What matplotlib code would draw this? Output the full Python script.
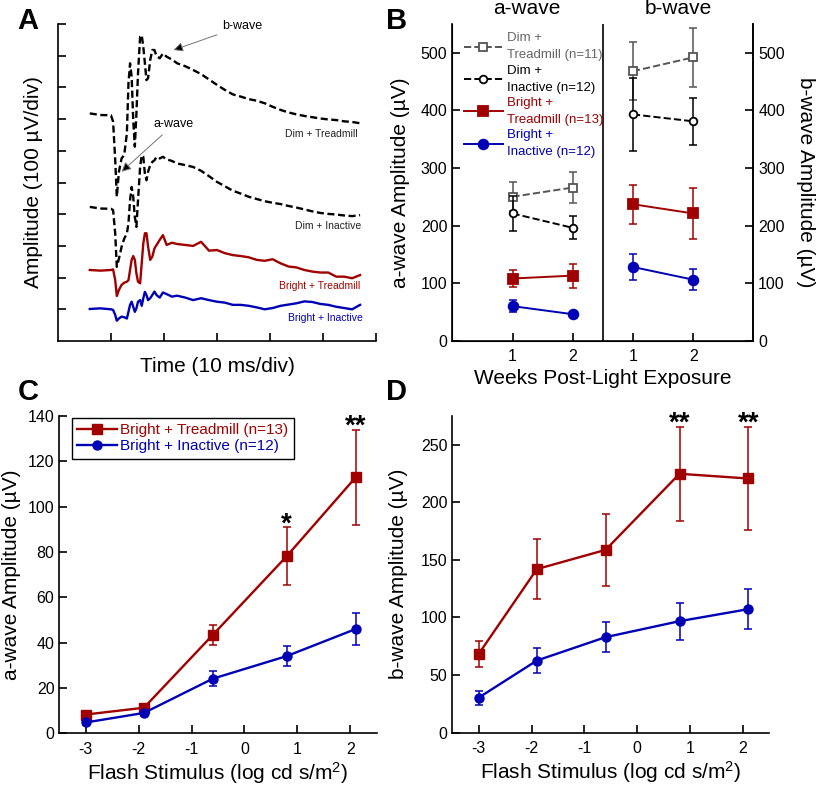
import numpy as np
import matplotlib
matplotlib.use("Agg")
import matplotlib.pyplot as plt
from matplotlib.lines import Line2D

plt.rcParams['font.family'] = ['Liberation Sans', 'DejaVu Sans']
plt.rcParams['mathtext.fontset'] = 'custom'
plt.rcParams['mathtext.rm'] = 'Liberation Sans'
plt.rcParams['mathtext.default'] = 'regular'
plt.rcParams['axes.unicode_minus'] = False

RED = '#a00000'
BLUE = '#0000b4'
GREY = '#555555'
LABEL_FS = 15

# --- Panel A : ERG traces (time in ms, amplitude in uV relative to baseline)
t_ms = [6, 8, 10, 10.4, 10.8, 11.1, 11.5, 12, 12.5, 13, 13.3, 13.6, 13.9, 14.2,
        14.5, 14.8, 15.1, 15.5, 15.8, 16.1, 16.4, 16.7, 17.0, 17.4, 17.8, 18.2,
        18.6, 19.2, 19.8, 20.5, 21.5, 22.5, 24, 25.5, 27, 28.5, 30, 31.5, 33,
        34.5, 36, 37.5, 39, 40.5, 42, 43.5, 45, 46.5, 48, 49.5, 51, 52.5, 54,
        55.5, 57]
dim_tread_trace = [3, -2, -3, -23, -144, -260, -181, -139, -128, -60, 98, 161, 119,
                   -18, -102, 3, 129, 245, 250, 213, 161, 108, 114, 171, 203, 203,
                   184, 177, 192, 182, 173, 161, 152, 140, 127, 110, 93, 77, 63, 56,
                   48, 43, 35, 24, 14, 6, 0, -5, -9, -13, -16, -18, -22, -24, -28]
dim_inact_trace = [5, 0, -1, -5, -79, -184, -158, -121, -95, -79, -47, 26, 68, 37,
                   -26, -58, 26, 131, 168, 163, 110, 89, 116, 137, 147, 152, 163,
                   158, 163, 155, 150, 142, 137, 131, 119, 102, 84, 70, 56, 47, 37,
                   30, 23, 18, 14, 8, 3, -3, -9, -14, -17, -19, -22, -24, -21]
br_tread_trace = [0, -2, 0, 2, -32, -82, -63, -47, -40, -37, -32, 0, 32, 44, 32,
                  -11, -37, -42, 21, 84, 116, 116, 74, 32, 42, 68, 79, 95, 110, 79,
                  86, 82, 79, 76, 89, 61, 63, 53, 47, 44, 40, 32, 29, 34, 21, 11, 8,
                  0, -5, -8, -8, -21, -21, -26, -16]
br_inact_trace = [1, 3, 0, -2, -18, -36, -29, -23, -25, -29, -8, 14, 24, 8, -8, 3,
                  24, 29, 11, 35, 55, 45, 29, 35, 45, 56, 45, 37, 53, 48, 40, 43, 37,
                  29, 35, 29, 24, 21, 14, 14, 11, 6, 0, 4, 11, 15, 19, 25, 23, 17, 14,
                  8, 4, 0, 14]
trace_names = ['Dim + Treadmill', 'Dim + Inactive', 'Bright + Treadmill', 'Bright + Inactive']

# --- Panel B : amplitudes by week
weeks = [1, 2]
dim_tm_a, dim_tm_a_err = [250, 266], [25, 27]
dim_in_a, dim_in_a_err = [221, 196], [30, 20]
br_tm_a, br_tm_a_err = [108, 113], [15, 21]
br_in_a, br_in_a_err = [60, 46], [10, 4]
dim_tm_b, dim_tm_b_err = [468, 492], [50, 51]
dim_in_b, dim_in_b_err = [393, 381], [64, 41]
br_tm_b, br_tm_b_err = [237, 221], [34, 45]
br_in_b, br_in_b_err = [128, 106], [22, 18]
legend_b = ['Dim +\nTreadmill (n=11)', 'Dim +\nInactive (n=12)',
            'Bright +\nTreadmill (n=13)', 'Bright +\nInactive (n=12)']

# --- Panels C / D : intensity-response
flash = [-3, -1.9, -0.6, 0.8, 2.1]
c_tm, c_tm_err = [8.3, 11.3, 43.4, 78.2, 112.9], [1.5, 1.5, 4.6, 12.8, 21]
c_in, c_in_err = [4.8, 9.0, 24.1, 34.1, 46], [1, 1, 3.4, 4.5, 7.2]
d_tm, d_tm_err = [68.4, 142, 158.7, 224.8, 220.7], [11.6, 26, 31, 41, 45]
d_in, d_in_err = [30.4, 62.6, 82.9, 96.8, 107.2], [6, 11, 13, 16, 17.5]
sig_c = ['', '', '', '*', '**']
sig_d = ['', '', '', '**', '**']

fig = plt.figure(figsize=(8.2, 7.85), dpi=100)


def style(ax, right=False):
    ax.spines['top'].set_visible(False)
    if not right:
        ax.spines['right'].set_visible(False)
    for s in ax.spines.values():
        s.set_linewidth(1.2)
    ax.tick_params(direction='in', length=6, width=1.2, labelsize=11.5)


# ---------------- A
ax = fig.add_axes([0.0707, 0.5656, 0.3878, 0.4038])
style(ax)
ax.set_xlim(0, 60)
ax.set_ylim(0, 1000)
ax.set_xticks(np.arange(10, 61, 10))
ax.set_yticks(np.arange(100, 1001, 100))
ax.tick_params(labelbottom=False, labelleft=False)
t = np.array(t_ms)
offsets = [715, 418, 224, 100]
traces = [dim_tread_trace, dim_inact_trace, br_tread_trace, br_inact_trace]
cols = ['black', 'black', RED, BLUE]
label_pos = [(56.5, 653), (57.3, 364), (57.0, 175), (57.5, 74)]
for tr, off, c, nm, lp in zip(traces, offsets, cols, trace_names, label_pos):
    ls = (0, (3, 1.5)) if c == 'black' else '-'
    ax.plot(t, np.array(tr) + off, color=c, lw=1.7, ls=ls)
    ax.text(lp[0], lp[1], nm, color=c if c != 'black' else '#222222',
            fontsize=7.5, ha='right', va='center')
ax.annotate('b-wave', xy=(21.8, 918), xytext=(34.8, 994), ha='center', va='center',
            fontsize=9, annotation_clip=False,
            arrowprops=dict(arrowstyle='-|>', ec='0.45', fc='black', lw=0.7,
                            mutation_scale=14, shrinkA=2, shrinkB=0))
ax.annotate('a-wave', xy=(12.0, 534), xytext=(21.9, 684), ha='center', va='center',
            fontsize=9,
            arrowprops=dict(arrowstyle='-|>', ec='0.45', fc='black', lw=0.7,
                            mutation_scale=14, shrinkA=2, shrinkB=0))
ax.set_xlabel('Time (10 ms/div)', fontsize=LABEL_FS)
ax.set_ylabel('Amplitude (100 \u00b5V/div)', fontsize=LABEL_FS)
ax.xaxis.set_label_coords(0.5, -0.05)
ax.yaxis.set_label_coords(-0.048, 0.5)

# ---------------- B
ax = fig.add_axes([0.5516, 0.566, 0.3671, 0.4034])
style(ax, right=True)
ax.set_xlim(0, 5)
ax.set_ylim(0, 550)
ax.axvline(2.5, color='black', lw=1.2)
xa = np.array(weeks)
xb = xa + 2
series = [
    (dim_tm_a, dim_tm_a_err, dim_tm_b, dim_tm_b_err, GREY, 's', 'none', '--', 5.5, legend_b[0]),
    (dim_in_a, dim_in_a_err, dim_in_b, dim_in_b_err, 'black', 'o', 'none', '--', 5.5, legend_b[1]),
    (br_tm_a, br_tm_a_err, br_tm_b, br_tm_b_err, RED, 's', RED, '-', 7, legend_b[2]),
    (br_in_a, br_in_a_err, br_in_b, br_in_b_err, BLUE, 'o', BLUE, '-', 7, legend_b[3]),
]
handles = []
for ya, ea, yb, eb, c, m, fc, ls, ms, lab in series:
    mfc = fc if fc != 'none' else 'white'
    for xx, yy, ee in ((xa, ya, ea), (xb, yb, eb)):
        ax.errorbar(xx, yy, yerr=ee, fmt='none', ecolor=c, elinewidth=1.1, capsize=3,
                    capthick=1.1)
        ax.plot(xx, yy, color=c, ls=ls, lw=1.4, marker=m, ms=ms, mfc=mfc, mec=c, mew=1.3)
    handles.append(Line2D([], [], color=c, ls=ls, lw=1.4, marker=m, ms=ms,
                          mfc=mfc, mec=c, mew=1.3, label=lab))
leg = ax.legend(handles=handles, loc='upper left', bbox_to_anchor=(0.02, 0.99), frameon=False,
                fontsize=9.5, handlelength=3.0, handletextpad=0.3, labelspacing=0.25,
                borderaxespad=0)
for txt, c in zip(leg.get_texts(), ['#666666', 'black', RED, BLUE]):
    txt.set_color(c)
    txt.set_linespacing(1.55)
ax.set_xticks([1, 2, 3, 4])
ax.set_xticklabels(['1', '2', '1', '2'])
ax.set_yticks(np.arange(0, 501, 100))
ax.tick_params(axis='x', pad=6)
ax.set_xlabel('Weeks Post-Light Exposure', fontsize=LABEL_FS)
ax.set_ylabel('a-wave Amplitude (\u00b5V)', fontsize=LABEL_FS)
ax.xaxis.set_label_coords(0.5, -0.09)
ax.yaxis.set_label_coords(-0.142, 0.5)
ax2 = ax.twinx()
ax2.set_ylim(0, 550)
ax2.set_yticks(np.arange(0, 501, 100))
ax2.spines['top'].set_visible(False)
ax2.spines['right'].set_linewidth(1.2)
ax2.tick_params(direction='in', length=6, width=1.2, labelsize=11.5)
ax2.set_ylabel('b-wave Amplitude (\u00b5V)', fontsize=LABEL_FS, rotation=270)
ax2.yaxis.set_label_coords(1.205, 0.5)
fig.text(527 / 820, 1 - 9 / 785, 'a-wave', fontsize=LABEL_FS, ha='center', va='center')
fig.text(678 / 820, 1 - 9 / 785, 'b-wave', fontsize=LABEL_FS, ha='center', va='center')


# ---------------- C and D
def ir_panel(rect, tm, tm_err, ina, ina_err, ylim, yticks, ylabel, sig, leg_on):
    ax = fig.add_axes(rect)
    style(ax)
    ax.set_xlim(-3.5, 2.5)
    ax.set_ylim(*ylim)
    ax.set_xticks([-3, -2, -1, 0, 1, 2])
    ax.set_yticks(yticks)
    ax.tick_params(axis='x', pad=6)
    ax.errorbar(flash, tm, yerr=tm_err, fmt='none', ecolor=RED, elinewidth=1.1,
                capsize=3, capthick=1.1)
    ax.errorbar(flash, ina, yerr=ina_err, fmt='none', ecolor=BLUE, elinewidth=1.1,
                capsize=3, capthick=1.1)
    ax.plot(flash, tm, color=RED, lw=1.7, marker='s', ms=7, label='Bright + Treadmill (n=13)')
    ax.plot(flash, ina, color=BLUE, lw=1.7, marker='o', ms=6.5, label='Bright + Inactive (n=12)')
    for x, y, e, s in zip(flash, tm, tm_err, sig):
        if s:
            ax.annotate(s, xy=(x, y + e), xytext=(0, -3), textcoords='offset points',
                        ha='center', va='baseline', fontsize=20, fontweight='bold',
                        annotation_clip=False)
    if leg_on:
        lg = ax.legend(loc='upper left', bbox_to_anchor=(0.04, 0.995), fontsize=11,
                       fancybox=False, edgecolor='black', framealpha=1, borderaxespad=0,
                       handlelength=2.6, handletextpad=0.2, labelspacing=0.15,
                       borderpad=0.35)
        lg.get_frame().set_linewidth(1.0)
        for txt, c in zip(lg.get_texts(), [RED, BLUE]):
            txt.set_color(c)
    ax.set_xlabel('Flash Stimulus (log cd s/m$^2$)', fontsize=LABEL_FS)
    ax.set_ylabel(ylabel, fontsize=LABEL_FS)
    ax.xaxis.set_label_coords(0.5, -0.085)
    return ax


axc = ir_panel([0.0723, 0.0658, 0.3871, 0.4042], c_tm, c_tm_err, c_in, c_in_err,
               (0, 140), np.arange(0, 141, 20), 'a-wave Amplitude (\u00b5V)', sig_c, True)
axc.yaxis.set_label_coords(-0.122, 0.5)
axd = ir_panel([0.5516, 0.0667, 0.3866, 0.4034], d_tm, d_tm_err, d_in, d_in_err,
               (0, 275), np.arange(0, 251, 50), 'b-wave Amplitude (\u00b5V)', sig_d, False)
axd.yaxis.set_label_coords(-0.141, 0.5)

for letter, x, y in (('A', 28, 21), ('B', 397, 21), ('C', 28, 392), ('D', 397, 392)):
    fig.text(x / 820, 1 - y / 785, letter, fontsize=21, fontweight='bold',
             ha='center', va='center')

fig.savefig('out.png', dpi=100)
